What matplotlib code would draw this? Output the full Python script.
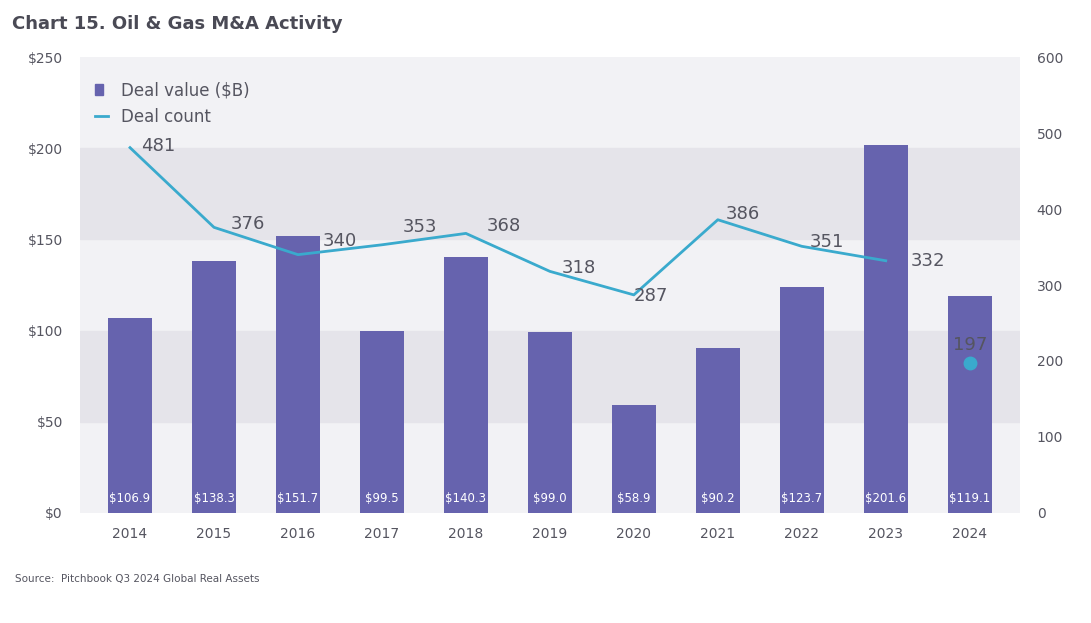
import matplotlib.pyplot as plt
import numpy as np
from matplotlib.lines import Line2D
from matplotlib.patches import Patch

years = ["2014", "2015", "2016", "2017", "2018", "2019", "2020", "2021", "2022", "2023", "2024"]
deal_value = [106.9, 138.3, 151.7, 99.5, 140.3, 99.0, 58.9, 90.2, 123.7, 201.6, 119.1]
deal_count = [481, 376, 340, 353, 368, 318, 287, 386, 351, 332, 197]

bar_color = "#6663ae"
line_color = "#3aaacd"
text_color = "#555560"

fig = plt.figure(figsize=(10.91, 6.23), dpi=100)
ax = fig.add_axes([0.073, 0.177, 0.862, 0.731])
ax2 = ax.twinx()

x = np.arange(len(years))
ax.set_facecolor("#f2f2f5")
for lo, hi in [(50, 100), (150, 200)]:
    ax.axhspan(lo, hi, color="#e5e4ea", zorder=0)

ax.bar(x, deal_value, width=0.52, color=bar_color, zorder=2)
for xi, v in zip(x, deal_value):
    ax.text(xi, 8, "$%.1f" % v, color="white", ha="center", va="center", fontsize=8.5, zorder=3)

ax2.plot(x[:-1], deal_count[:-1], color=line_color, lw=2, zorder=4)
ax2.plot(x[-1], deal_count[-1], "o", color=line_color, ms=9, zorder=4)
# label offsets (dx in categories, dy in counts)
offsets = [(0.33, 2), (0.4, 4), (0.5, 18), (0.45, 24), (0.45, 10), (0.35, 4), (0.2, -2),
           (0.3, 8), (0.3, 6), (0.5, 0), (0, 24)]
for xi, c, (dx, dy) in zip(x, deal_count, offsets):
    ax2.text(xi + dx, c + dy, str(c), color=text_color, fontsize=13, ha="center", va="center", zorder=5)

ax.set_xlim(-0.6, len(years) - 0.4)
ax.set_ylim(0, 250)
ax2.set_ylim(0, 600)
ax.set_yticks([0, 50, 100, 150, 200, 250])
ax.set_yticklabels(["$0", "$50", "$100", "$150", "$200", "$250"])
ax2.set_yticks([0, 100, 200, 300, 400, 500, 600])
ax.set_xticks(x)
ax.set_xticklabels(years)
for a in (ax, ax2):
    for s in a.spines.values():
        s.set_visible(False)
    a.tick_params(length=0, labelsize=10, colors=text_color)
ax.tick_params(axis="x", pad=10)
ax.tick_params(axis="y", pad=12)
ax2.tick_params(axis="y", pad=12)

handles = [Patch(color=bar_color, label="Deal value ($B)"),
           Line2D([], [], color=line_color, lw=2, label="Deal count")]
leg = ax.legend(handles=handles, loc="upper left", bbox_to_anchor=(0.0, 0.98), frameon=False,
                fontsize=12, handlelength=0.8, labelcolor=text_color)
leg.legend_handles[0].set_width(6)

fig.text(0.011, 0.962, "Chart 15. Oil & Gas M&A Activity", fontsize=13, fontweight="bold", color="#4a4a55", va="center")
fig.text(0.014, 0.07, "Source:  Pitchbook Q3 2024 Global Real Assets", fontsize=7.5, color=text_color, va="center")

fig.savefig("out.png", dpi=100)
